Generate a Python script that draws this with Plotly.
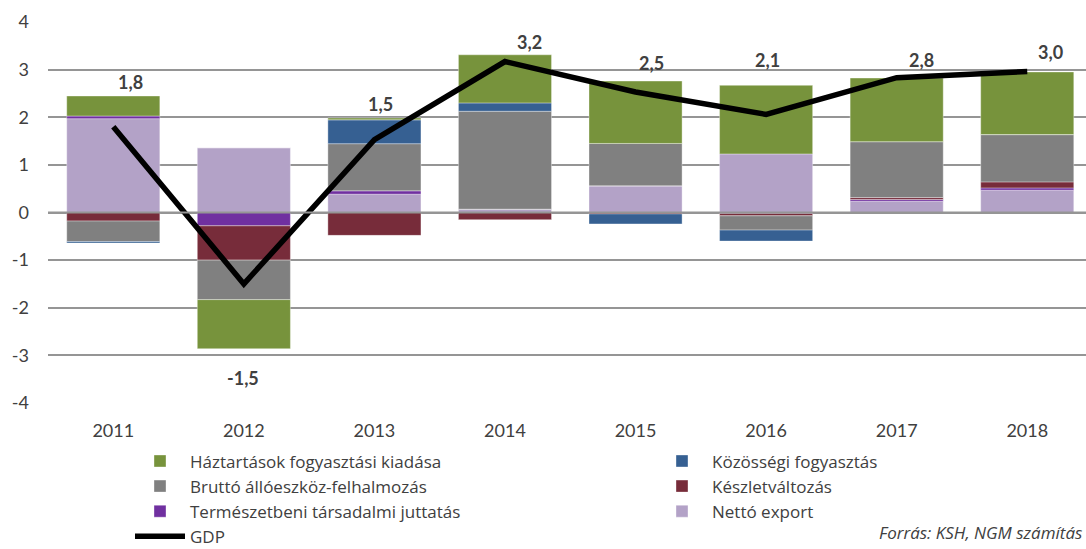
import plotly.graph_objects as go

# ---------------- data ----------------
years = ["2011", "2012", "2013", "2014", "2015", "2016", "2017", "2018"]
haztartasok = [0.42, -1.03, 0.04, 1.01, 1.31, 1.44, 1.335, 1.315]
kozossegi = [-0.03, 0.0, 0.50, 0.175, -0.21, -0.23, 0.0, 0.0]
brutto = [-0.43, -0.83, 0.99, 2.056, 0.89, -0.30, 1.175, 0.993]
keszlet = [-0.18, -0.72, -0.48, -0.15, -0.03, -0.05, 0.04, 0.126]
termeszetbeni = [0.056, -0.28, 0.07, 0.0, 0.0, -0.02, 0.035, 0.048]
netto_export = [1.97, 1.36, 0.385, 0.07, 0.56, 1.23, 0.238, 0.469]
gdp = [1.8, -1.5, 1.53, 3.17, 2.53, 2.06, 2.83, 2.96]
gdp_labels = ["1,8", "-1,5", "1,5", "3,2", "2,5", "2,1", "2,8", "3,0"]
y_ticks = [-4, -3, -2, -1, 0, 1, 2, 3, 4]

# ---------------- styling / layout ----------------
FONT = "Lato, 'Liberation Sans', Arial, sans-serif"
LEGFONT = "'Open Sans', Lato, Arial, sans-serif"
TXT = "#404040"
GRID = "#959595"
# label placement (category offset, y position) for the GDP data labels
label_dx = [0.13, -0.01, 0.05, 0.19, 0.12, 0.01, 0.19, 0.18]
label_y = [2.74, -3.47, 2.27, 3.57, 3.14, 3.20, 3.20, 3.37]

fig = go.Figure()

series = [
    ("Nettó export", netto_export, "#B3A2C7", "legend2", 3),
    ("Természetbeni társadalmi juttatás", termeszetbeni, "#7030A0", "legend", 3),
    ("Készletváltozás", keszlet, "#772C3A", "legend2", 2),
    ("Bruttó állóeszköz-felhalmozás", brutto, "#808080", "legend", 2),
    ("Közösségi fogyasztás", kozossegi, "#366092", "legend2", 1),
    ("Háztartások fogyasztási kiadása", haztartasok, "#77933C", "legend", 1),
]
for name, vals, col, leg, rank in series:
    fig.add_trace(go.Bar(
        x=years, y=vals, name=name,
        marker=dict(color=col, line=dict(color="rgba(255,255,255,0.6)", width=0.6)),
        legend=leg, legendrank=rank,
        hovertemplate="%{x}: %{y:.2f}<extra>" + name + "</extra>",
    ))

fig.add_trace(go.Scatter(
    x=years, y=gdp, name="GDP", mode="lines",
    line=dict(color="#000000", width=5.5),
    legend="legend", legendrank=4,
))

for i, (lab, dx, ly) in enumerate(zip(gdp_labels, label_dx, label_y)):
    fig.add_annotation(
        x=i + dx, y=ly, xref="x", yref="y", text="<b>" + lab + "</b>",
        showarrow=False, font=dict(family=FONT, size=18, color=TXT),
    )

# zero line drawn above bars (as in the original)
fig.add_shape(type="line", xref="paper", yref="y", x0=0, x1=1, y0=0, y1=0,
              line=dict(color=GRID, width=2), layer="above")

fig.add_annotation(
    xref="paper", yref="paper", x=(877 - 48) / 1038, y=-(533 - 403.5) / 381.5,
    xanchor="left", yanchor="middle", showarrow=False,
    text="<i>Forrás: KSH, NGM számítás</i>",
    font=dict(family=LEGFONT, size=17, color=TXT),
)

LEG_Y = -(444 - 403.5) / 381.5
fig.update_layout(
    width=1086, height=549,
    margin=dict(l=48, r=0, t=22, b=145.5, autoexpand=False),
    barmode="relative", bargap=0.287,
    plot_bgcolor="white", paper_bgcolor="white",
    font=dict(family=FONT, size=18, color=TXT),
    xaxis=dict(
        type="category", range=[-0.5, 7.45], showgrid=False, zeroline=False,
        showline=False, ticks="", ticklabelstandoff=15,
        tickfont=dict(family=FONT, size=18, color=TXT),
    ),
    yaxis=dict(
        range=[-4, 4], tickvals=y_ticks, ticktext=[str(v) for v in y_ticks],
        showgrid=True, gridcolor=GRID, gridwidth=2,
        zeroline=False, showline=False, ticks="", ticklabelstandoff=18,
        tickfont=dict(family=FONT, size=18, color=TXT),
    ),
    legend=dict(
        orientation="v", x=(130 - 48) / 1038, y=LEG_Y,
        xanchor="left", yanchor="top",
        traceorder="normal", itemwidth=50, tracegroupgap=0,
        font=dict(family=LEGFONT, size=17, color=TXT), bgcolor="rgba(0,0,0,0)",
    ),
    legend2=dict(
        orientation="v", x=(652 - 48) / 1038, y=LEG_Y,
        xanchor="left", yanchor="top",
        traceorder="normal", itemwidth=50, tracegroupgap=0,
        font=dict(family=LEGFONT, size=17, color=TXT), bgcolor="rgba(0,0,0,0)",
    ),
    showlegend=True,
)

fig.write_html(
    "out.html",
    config={"displayModeBar": False},
    post_script="document.body.style.margin='0';document.body.style.overflow='hidden';",
)
